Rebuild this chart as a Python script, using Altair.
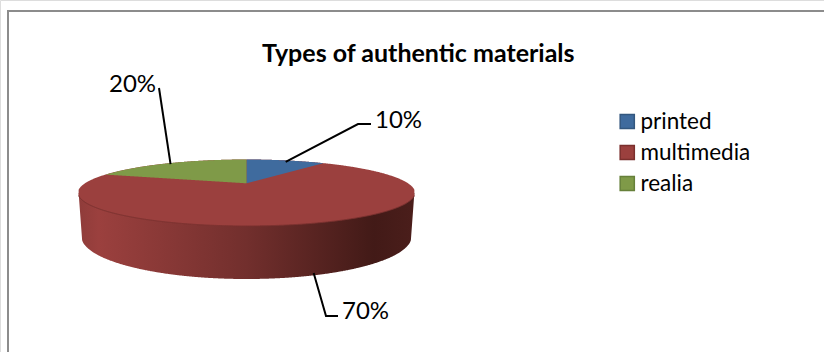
import numpy as np
import pandas as pd
import altair as alt

categories = ["printed", "multimedia", "realia"]
shares = [10, 70, 20]
fills = ["#3f6b9e", "#9b403e", "#7f9a48"]
edges = ["#33577f", "#7a2f2d", "#66803a"]

FONT = "Lato"
CX, RIM = 246.5, 161.0
TILT, LIFT, CY = 0.284, 21.5, 183.3
MID_Y = 193.0
WALL_EDGE_Y, WALL_BOTTOM_Y = 237.0, 279.0
WALL_STOPS = [
    alt.GradientStop(offset=0, color="#8f3c3a"),
    alt.GradientStop(offset=0.06, color="#9b403e"),
    alt.GradientStop(offset=0.5, color="#722f2d"),
    alt.GradientStop(offset=0.88, color="#421a17"),
    alt.GradientStop(offset=1, color="#4b1e1b"),
]


def project(angle):
    """Map a clockwise angle from twelve o'clock onto the tilted disc."""
    u, v = np.sin(angle), np.cos(angle)
    den = 1 + TILT * v
    return CX + RIM * u / den, (LIFT * v + CY) / den


def disc_area():
    """Upper and lower rim of the disc as functions of x."""
    t = np.linspace(0, 2 * np.pi, 2881)
    x, y = project(t)
    grid = np.linspace(x.min() + 0.05, x.max() - 0.05, 500)
    near = [np.abs(x - g) < 0.6 for g in grid]
    top = np.array([y[m].min() for m in near])
    low = np.array([y[m].max() for m in near])
    return grid, top, low


def sector(start, end, name):
    """Envelope of a wedge whose apex is the disc centre."""
    t = np.linspace(start, end, 200)
    rx, ry = project(t)
    xs = np.linspace(min(rx.min(), CX), max(rx.max(), CX), 300)
    order = np.argsort(rx)
    rim_y = np.interp(xs, rx[order], ry[order])
    spokes = [(p, q) for p, q in ((rx[0], ry[0]), (rx[-1], ry[-1])) if abs(p - CX) > 1e-6]
    low = []
    for g in xs:
        vals = [CY + (q - CY) * (g - CX) / (p - CX) for p, q in spokes
                if min(p, CX) - 1e-6 <= g <= max(p, CX) + 1e-6]
        low.append(max(vals) if vals else CY)
    return pd.DataFrame({"x": xs, "y": rim_y, "y2": low, "category": name})


xs_scale = alt.Scale(domain=[0, 824], range=[0, 824], nice=False, zero=False)
ys_scale = alt.Scale(domain=[0, 352], range=[0, 352], nice=False, zero=False)
X = alt.X("x:Q", scale=xs_scale, axis=None)
Y = alt.Y("y:Q", scale=ys_scale, axis=None)
Y2 = alt.Y2("y2:Q")
color_scale = alt.Scale(domain=categories, range=fills)
legend = alt.Legend(
    title=None, orient="none", legendX=616, legendY=110, symbolType="square",
    symbolSize=200, symbolStrokeWidth=1.5, labelFont=FONT, labelFontSize=22.5,
    labelColor="#000000", rowPadding=8, labelOffset=2, clipHeight=23,
)

dx, dtop, dlow = disc_area()
disc = pd.DataFrame({"x": dx, "y": dtop, "y2": dlow, "category": categories[1]})

# The slab's lower rim is a slightly narrower, deeper copy of the disc's lower rim.
narrow = (dx.max() - dx.min() - 7) / (dx.max() - dx.min())
rim_x = CX + (dx - CX) * narrow
rim_y = WALL_EDGE_Y + (dlow - MID_Y) * (WALL_BOTTOM_Y - WALL_EDGE_Y) / (dlow.max() - MID_Y)
wall_x = np.concatenate([[dx.min()], rim_x, [dx.max()]])
wall_low = np.concatenate([[MID_Y], rim_y, [MID_Y]])
wall = pd.DataFrame({"x": wall_x, "y": np.full(wall_x.size, MID_Y), "y2": wall_low})

rim_line = pd.DataFrame({"x": dx, "y": dlow})

# Wedges run clockwise from twelve o'clock in category order; realia ends the turn.
a_blue = 2 * np.pi * shares[0] / 100
a_green = 2 * np.pi * shares[2] / 100
wedges = pd.concat([
    sector(0, a_blue, categories[0]),
    sector(-a_green, 0, categories[2]),
])

wall_layer = alt.Chart(wall).mark_area(
    color=alt.Gradient(gradient="linear", x1=0, x2=1, y1=0, y2=0, stops=WALL_STOPS)
).encode(x=X, y=Y, y2=Y2)

color_enc = alt.Color("category:N", scale=color_scale, legend=legend)
stroke_enc = alt.Stroke("category:N", scale=alt.Scale(domain=categories, range=edges), legend=legend)

disc_layer = alt.Chart(disc).mark_area(strokeWidth=0).encode(x=X, y=Y, y2=Y2, color=color_enc, stroke=stroke_enc)
wedge_layer = alt.Chart(wedges).mark_area(strokeWidth=0).encode(x=X, y=Y, y2=Y2, color=color_enc, stroke=stroke_enc)
rim_layer = alt.Chart(rim_line).mark_line(color="#7b3230", strokeWidth=1).encode(x=X, y=Y)

# Leader lines start at each wedge's mid-angle on the rim.
bx, by = project(a_blue / 2)
mx, _ = project(a_blue + 2 * np.pi * shares[1] / 200)
gx, gy = project(-a_green / 2)
leaders = pd.DataFrame({
    "x": [bx, 358, 371, mx - 1, 326, 338, gx + 1, 159],
    "y": [by + 1.5, 124, 124, 273, 316, 316, gy + 1, 88],
    "leader": ["a"] * 3 + ["b"] * 3 + ["c"] * 2,
    "step": [0, 1, 2, 0, 1, 2, 0, 1],
})
leader_layer = alt.Chart(leaders).mark_line(color="#000000", strokeWidth=2).encode(
    x=X, y=Y, detail="leader:N", order="step:Q"
)

labels = pd.DataFrame({
    "x": [375, 342, 109],
    "y": [120.5, 311.5, 85],
    "text": [f"{v}%" for v in shares],
})
label_layer = alt.Chart(labels).mark_text(
    font=FONT, fontSize=24, align="left", baseline="middle", color="#000000"
).encode(x=X, y=Y, text="text:N")

frame = pd.DataFrame({"x": [8, 8, 824], "y": [352, 11, 11], "step": [0, 1, 2]})
frame_layer = alt.Chart(frame).mark_line(color="#8c8c8c", strokeWidth=2).encode(x=X, y=Y, order="step:Q")

chart = alt.layer(
    frame_layer, wall_layer, disc_layer, wedge_layer, rim_layer, leader_layer, label_layer
).resolve_scale(color="shared", stroke="shared").properties(
    width=824, height=352, padding=0,
    autosize=alt.AutoSizeParams(type="none"),
    title=alt.TitleParams(
        "Types of authentic materials", anchor="start", dx=262, dy=71, font=FONT,
        fontSize=25, fontWeight="bold", color="#000000",
    ),
).configure_view(stroke=None).configure(background="#ffffff")

chart.save("out.html", embed_options={"renderer": "svg", "actions": False})
